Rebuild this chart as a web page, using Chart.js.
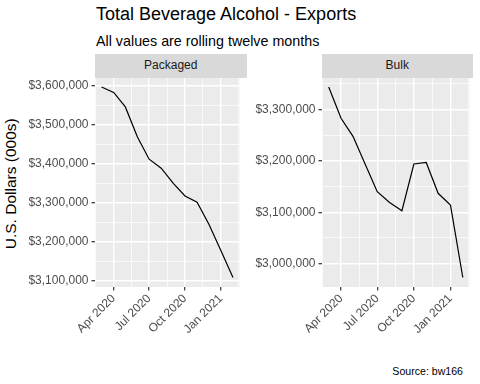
<!DOCTYPE html>
<html><head><meta charset="utf-8">
<script src="https://cdn.jsdelivr.net/npm/chart.js@4/dist/chart.umd.min.js"></script>
<style>
html,body{margin:0;padding:0;background:#fff;}
#wrap{position:relative;width:480px;height:384px;overflow:hidden;font-family:"Liberation Sans",Arial,sans-serif;}
.t{position:absolute;white-space:nowrap;line-height:1;}
.strip{position:absolute;background:#D9D9D9;color:#1A1A1A;font-size:12px;text-align:center;}
canvas{position:absolute;top:0;}
</style></head><body>
<div id="wrap">
<div class="t" style="left:96px;top:5.2px;font-size:18px;color:#000">Total Beverage Alcohol - Exports</div>
<div class="t" style="left:96px;top:33.6px;font-size:14.3px;color:#000">All values are rolling twelve months</div>
<div class="t" style="left:-89.4px;top:176.25px;width:200px;text-align:center;font-size:15.5px;color:#000;transform:rotate(-90deg);">U.S. Dollars (000s)</div>
<div class="t" style="right:17px;top:366px;font-size:10.6px;color:#000">Source: bw166</div>
<canvas id="cA" width="250" height="384" style="left:0;width:250px;height:384px"></canvas>
<canvas id="cB" width="230" height="384" style="left:250px;width:230px;height:384px"></canvas>
<div class="strip" style="left:95px;top:54px;width:151.5px;height:23.5px;line-height:23.5px;">Packaged</div>
<div class="strip" style="left:322px;top:54px;width:150.5px;height:23.5px;line-height:23.5px;">Bulk</div>
</div>
<script>
// ---- data ----
const dates = ['2020-03-01','2020-04-01','2020-05-01','2020-06-01','2020-07-01','2020-08-01',
               '2020-09-01','2020-10-01','2020-11-01','2020-12-01','2021-01-01','2021-02-01'];
const packagedValues = [3597000,3583000,3546000,3469000,3412000,3389000,3350000,3318000,3302000,3246000,3178000,3109000];
const bulkValues = [3344000,3283000,3248000,3193000,3140000,3119000,3103000,3194000,3197000,3137000,3114000,2973000];
const xTickDates = ['2020-04-01','2020-07-01','2020-10-01','2021-01-01'];
const xTickLabels = ['Apr 2020','Jul 2020','Oct 2020','Jan 2021'];
const packagedYTicks = [3100000,3200000,3300000,3400000,3500000,3600000];
const bulkYTicks = [3000000,3100000,3200000,3300000];

const FONT = '"Liberation Sans", Arial, sans-serif';
const DAY = 86400000;
const t0 = Date.parse(dates[0]);
const toDay = s => (Date.parse(s) - t0) / DAY;
const fmt = v => '$' + Math.round(v).toLocaleString('en-US');

function withMinor(majors, lo, hi) {
  const out = [];
  const step0 = majors[1] - majors[0];
  const cand = [majors[0] - step0 / 2];
  for (let i = 0; i < majors.length; i++) {
    cand.push(majors[i]);
    if (i < majors.length - 1) cand.push((majors[i] + majors[i + 1]) / 2);
  }
  const stepN = majors[majors.length - 1] - majors[majors.length - 2];
  cand.push(majors[majors.length - 1] + stepN / 2);
  cand.forEach(v => { if (v >= lo && v <= hi) out.push(v); });
  return out;
}

const bgPlugin = {
  id: 'panelBg',
  beforeDraw(chart) {
    const { ctx, chartArea: a } = chart;
    ctx.save();
    ctx.fillStyle = '#EBEBEB';
    ctx.fillRect(a.left, a.top, a.right - a.left, a.bottom - a.top);
    ctx.restore();
  }
};

function makePanel(id, values, yMajors, yAxisWidth, rightPad) {
  const xs = dates.map(toDay);
  const xr = xs[xs.length - 1] - xs[0];
  const xmin = xs[0] - 0.05 * xr, xmax = xs[xs.length - 1] + 0.05 * xr;
  const vmin = Math.min(...values), vmax = Math.max(...values);
  const yr = vmax - vmin;
  const ymin = vmin - 0.05 * yr, ymax = vmax + 0.05 * yr;
  const xMaj = xTickDates.map(toDay);
  const xAll = withMinor(xMaj, xmin, xmax);
  const yAll = withMinor(yMajors, ymin, ymax);
  const isXMaj = v => xMaj.some(m => Math.abs(m - v) < 1e-6);
  const isYMaj = v => yMajors.some(m => Math.abs(m - v) < 1e-6);

  new Chart(document.getElementById(id), {
    type: 'line',
    data: {
      datasets: [{
        data: xs.map((x, i) => ({ x, y: values[i] })),
        borderColor: '#000000', borderWidth: 1.2, pointRadius: 0, tension: 0, fill: false
      }]
    },
    options: {
      responsive: false, animation: false, devicePixelRatio: 1,
      layout: { padding: { left: 0, right: rightPad, top: 77.5, bottom: 0 } },
      plugins: { legend: { display: false }, tooltip: { enabled: false } },
      scales: {
        x: {
          type: 'linear', min: xmin, max: xmax,
          afterBuildTicks: s => { s.ticks = xAll.map(v => ({ value: v })); },
          afterFit: s => { s.height = 97; },
          border: { display: false },
          grid: {
            color: '#FFFFFF',
            lineWidth: c => (c.tick && isXMaj(c.tick.value)) ? 1.4 : 0.7,
            tickColor: c => (c.tick && isXMaj(c.tick.value)) ? '#333333' : 'rgba(0,0,0,0)',
            tickLength: 3.5, tickWidth: 1.2
          },
          ticks: {
            autoSkip: false, minRotation: 45, maxRotation: 45, padding: 1,
            color: '#4D4D4D', font: { family: FONT, size: 12 },
            callback: v => { const i = xMaj.findIndex(m => Math.abs(m - v) < 1e-6); return i >= 0 ? xTickLabels[i] : ''; }
          }
        },
        y: {
          type: 'linear', min: ymin, max: ymax,
          afterBuildTicks: s => { s.ticks = yAll.map(v => ({ value: v })); },
          afterFit: s => { s.width = yAxisWidth; },
          border: { display: false },
          grid: {
            color: '#FFFFFF',
            lineWidth: c => (c.tick && isYMaj(c.tick.value)) ? 1.4 : 0.7,
            tickColor: c => (c.tick && isYMaj(c.tick.value)) ? '#333333' : 'rgba(0,0,0,0)',
            tickLength: 3.5, tickWidth: 1.2
          },
          ticks: {
            autoSkip: false, padding: 3,
            color: '#4D4D4D', font: { family: FONT, size: 12 },
            callback: v => isYMaj(v) ? fmt(v) : ''
          }
        }
      }
    },
    plugins: [bgPlugin]
  });
}

makePanel('cA', packagedValues, packagedYTicks, 95, 3.5);
makePanel('cB', bulkValues, bulkYTicks, 72, 7.5);
</script>
</body></html>
